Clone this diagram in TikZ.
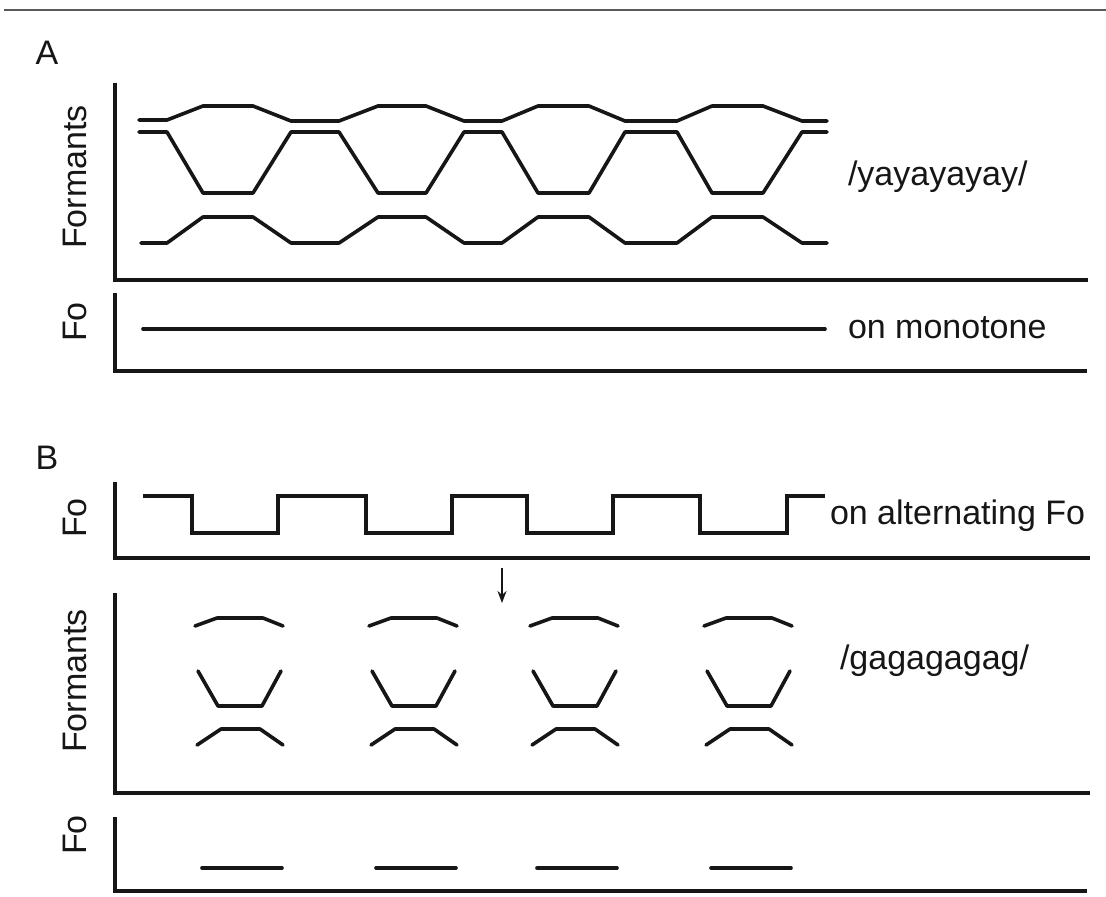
\documentclass[tikz,border=0pt]{standalone}
\usepackage{fontspec}
\setmainfont{Liberation Sans}
\usetikzlibrary{arrows.meta}
\definecolor{ink}{HTML}{161616}
\begin{document}
\begin{tikzpicture}[x=1pt,y=-1pt,
  every node/.style={inner sep=0pt,outer sep=0pt,text=ink,font=\fontsize{34}{40}\selectfont},
  axis/.style={draw=ink,line width=3.8pt,line join=miter},
  track/.style={draw=ink,line width=3.6pt,line join=round,line cap=round},
  panel/.style={font=\fontsize{34}{40}\selectfont},
  ylab/.style={rotate=90},
  note/.style={anchor=base west}]
\useasboundingbox (0,0) rectangle (1106,897);
\fill[white] (0,0) rectangle (1106,897);
% edge rule along the top of the page
\draw[gray!70!black,line width=1.8pt] (4,10) -- (1106,10);

% ---------- panel A ----------
\node[panel] (labA) at (47,53) {A};
\node[ylab] (formA) at (75,177) {Formants};
\node[ylab] (foA) at (75,322) {Fo};
\draw[axis] (115,83) -- (115,280) -- (1088,280);
\draw[axis] (115,293) -- (115,371) -- (1087,371);

% third formant
\draw[track] (139,120) -- (167,120) -- (203,106) -- (253,106) -- (291,121) -- (339,121)
  -- (378,106) -- (426,106) -- (464,121) -- (502,121) -- (538,106) -- (589,106)
  -- (625,121) -- (677,121) -- (712,106) -- (763,106) -- (802,121) -- (827,121);
% second formant
\draw[track] (139,132) -- (167,132) -- (203,193) -- (253,193) -- (291,132) -- (339,132)
  -- (378,193) -- (426,193) -- (464,132) -- (502,132) -- (538,193) -- (589,193)
  -- (625,132) -- (677,132) -- (712,193) -- (763,193) -- (802,132) -- (827,132);
% first formant
\draw[track] (141,243) -- (167,243) -- (203,217) -- (253,217) -- (291,243) -- (339,243)
  -- (378,217) -- (426,217) -- (464,243) -- (502,243) -- (538,217) -- (589,217)
  -- (625,243) -- (677,243) -- (712,217) -- (763,217) -- (802,243) -- (827,243);
\node[note] (yay) at (848,185) {/yayayayay/};

% monotone Fo
\draw[track] (143,329) -- (825,329);
\node[note] (mono) at (848,338) {on monotone};

% ---------- panel B ----------
\node[panel] (labB) at (47,458) {B};
\node[ylab] (foB) at (75,518) {Fo};
\node[ylab] (formB) at (75,681) {Formants};
\node[ylab] (foB2) at (75,835) {Fo};
\draw[axis] (115,482) -- (115,558) -- (1090,558);
\draw[axis] (115,593) -- (115,793) -- (1090,793);
\draw[axis] (115,817) -- (115,891) -- (1087,891);

% alternating Fo
\draw[track,line join=miter,line cap=butt] (143,496) -- (192,496) -- (192,533) -- (278,533) -- (278,496)
  -- (366,496) -- (366,533) -- (452,533) -- (452,496) -- (527,496) -- (527,533)
  -- (613,533) -- (613,496) -- (700,496) -- (700,533) -- (787,533) -- (787,496) -- (825,496);
\node[note] (alt) at (830,524) {on alternating Fo};

% arrow from the upper Fo to the perceived formants
\coordinate (arrowtop) at (502,568);
\coordinate (arrowtip) at (502,603);
\draw[ink,line width=1.8pt,-{Stealth[length=12pt,width=9pt]}] (arrowtop) -- (arrowtip);

% formant fragments and low Fo segments, one group per syllable
\foreach \dx in {0,174,335,509}{
  \begin{scope}[xshift=\dx]
    \draw[track] (195,626) -- (217,618) -- (263,618) -- (283,626);
    \draw[track] (198,671) -- (218,706) -- (262,706) -- (281,671);
    \draw[track] (197,745) -- (221,729) -- (260,729) -- (283,745);
    \draw[track] (202,868) -- (282,868);
  \end{scope}
}
\node[note] (gag) at (840,669) {/gagagagag/};
\end{tikzpicture}
\end{document}
